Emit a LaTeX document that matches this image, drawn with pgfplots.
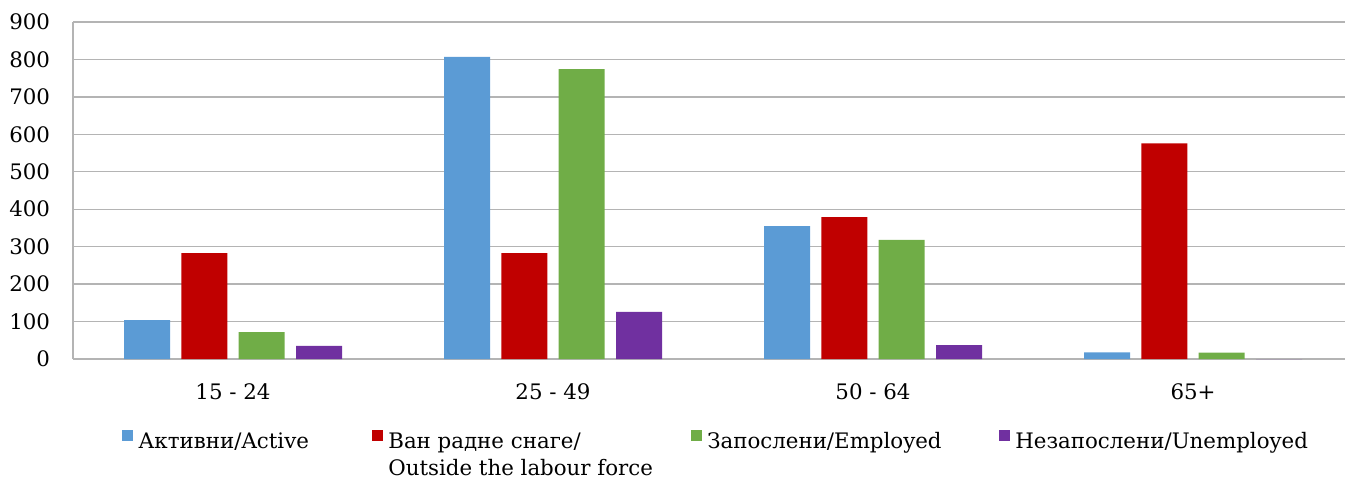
\documentclass[border=0pt]{standalone}
\usepackage{fontspec}
\setmainfont{DejaVu Serif}
\usepackage{pgfplots}
\pgfplotsset{compat=1.18}
\definecolor{cActive}{RGB}{91,155,213}
\definecolor{cOut}{RGB}{192,0,0}
\definecolor{cEmp}{RGB}{112,173,71}
\definecolor{cUnemp}{RGB}{112,48,160}
\definecolor{gridc}{RGB}{180,180,180}
\begin{document}
\begin{tikzpicture}[font=\fontsize{16pt}{20.25pt}\selectfont]
\path[use as bounding box, clip] (0,0) rectangle (1008.75pt,359.25pt);
\begin{axis}[
  at={(54.75pt,90pt)}, anchor=south west,
  scale only axis,
  width=984pt, height=252.75pt,
  ybar=8.5pt, bar width=34.5pt,
  xmin=-0.5, xmax=3.6,
  ymin=0, ymax=900,
  ytick={0,100,...,900},
  xtick={0,1,2,3},
  xticklabels={15 - 24, 25 - 49, 50 - 64, 65+},
  extra x ticks={-0.5},
  extra x tick labels={},
  extra x tick style={grid=major},
  ytick pos=left, xtick pos=bottom,
  major tick length=0pt,
  axis line style={draw=none},
  ymajorgrids, grid style={gridc, line width=1pt},
  yticklabel style={inner sep=0pt, anchor=east, xshift=-17pt},
  xticklabel style={inner sep=0pt, anchor=north, yshift=-18pt},
  /pgf/number format/assume math mode=true,
  clip=false,
  legend cell align=left,
  legend columns=4,
  legend image code/.code={\path[#1, draw=none] (0pt,-1pt) rectangle (8.25pt,7.25pt);},
  legend style={at={(rel axis cs:0.0374,-0.208)}, anchor=north west,
    draw=none, fill=none, inner sep=0pt, column sep=0pt, row sep=0pt,
    nodes={inner sep=0pt}},
]
\addplot[fill=cActive, draw=none] coordinates {(0,104) (1,807) (2,355) (3,18)};
\addlegendentry{\hspace*{3.75pt}\makebox[175.5pt][l]{\strut Активни/Active}}
\addplot[fill=cOut, draw=none] coordinates {(0,283) (1,283) (2,379) (3,576)};
\addlegendentry{\hspace*{3.75pt}\makebox[227.25pt][l]{\raisebox{0pt}[\ht\strutbox][\dp\strutbox]{\begin{tabular}[t]{@{}l@{}}Ван радне снаге/\\Outside the labour force\end{tabular}}}}
\addplot[fill=cEmp, draw=none] coordinates {(0,72) (1,774) (2,318) (3,17)};
\addlegendentry{\hspace*{3.75pt}\makebox[219pt][l]{\strut Запослени/Employed}}
\addplot[fill=cUnemp, draw=none] coordinates {(0,35) (1,126) (2,37) (3,0)};
\addlegendentry{\hspace*{3.75pt}\strut Незапослени/Unemployed}
\end{axis}
\end{tikzpicture}
\end{document}
